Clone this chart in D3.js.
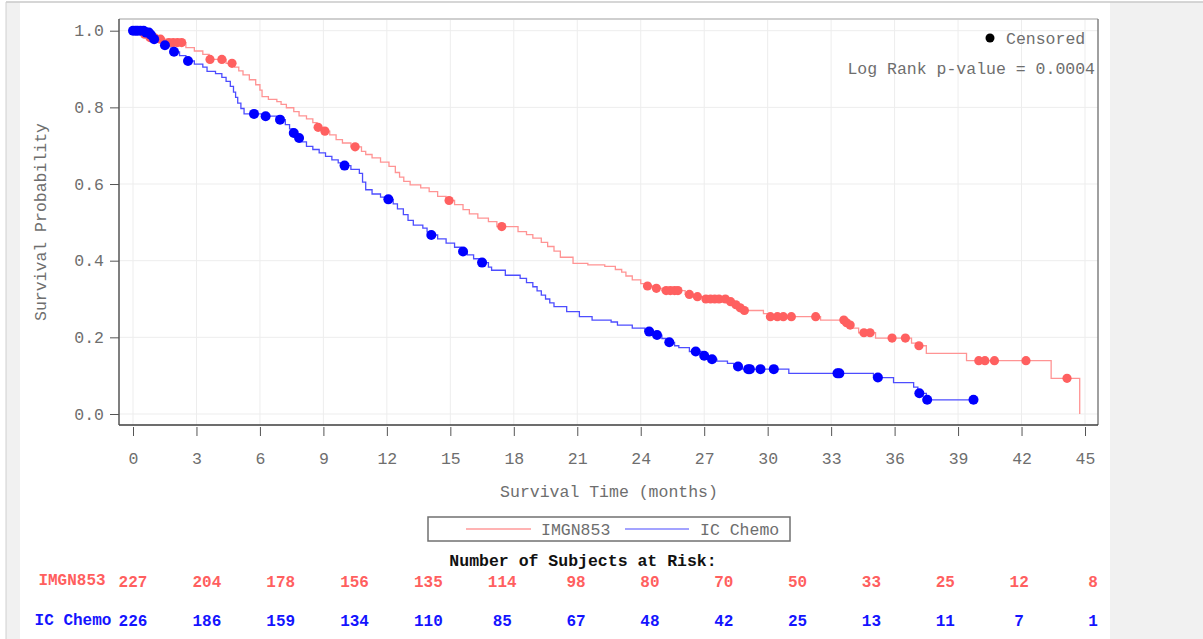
<!DOCTYPE html>
<html>
<head>
<meta charset="utf-8">
<script src="https://cdn.jsdelivr.net/npm/d3@7"></script>
<style>
    body { margin: 0; background: #fff; }
    text { font-family: "Courier New", "Liberation Mono", monospace; }
</style>
</head>
<body>
<div id="km"></div>
<script>
// IMGN853 arm: step times (months) and survival after each step
var redTimes = [0, 0.3, 0.5, 0.75, 1.2, 1.6, 2.5, 2.9, 3.3, 3.6,
    4.4, 4.8, 5.0, 5.2, 5.5, 5.8, 6.0, 6.1, 6.4, 6.8,
    7.0, 7.25, 7.6, 7.85, 8.2, 8.5, 8.7, 9.0, 9.3, 9.6,
    9.9, 10.3, 10.8, 11.0, 11.3, 11.7, 12.1, 12.4, 12.6, 12.8,
    13.1, 13.6, 14.0, 14.4, 14.8, 15.2, 15.6, 15.9, 16.3, 16.8,
    17.2, 18.2, 18.6, 18.9, 19.3, 19.6, 19.9, 20.2, 20.8, 21.5,
    22.3, 22.8, 23.1, 23.3, 23.6, 24.0, 24.3, 24.6, 25.0, 26.1,
    26.5, 27.0, 28.2, 28.4, 28.6, 28.8, 29.8, 30.0, 32.5, 33.7,
    33.85, 34.0, 34.3, 35.1, 36.8, 37.0, 37.5, 39.4, 43.4, 44.75];
var redSurv = [1.0, 0.996, 0.991, 0.982, 0.978, 0.969, 0.956, 0.947, 0.938, 0.925,
    0.915, 0.905, 0.895, 0.885, 0.872, 0.859, 0.845, 0.828, 0.821, 0.815,
    0.808, 0.799, 0.789, 0.778, 0.770, 0.760, 0.748, 0.738, 0.728, 0.716,
    0.707, 0.697, 0.685, 0.677, 0.668, 0.657, 0.646, 0.630, 0.618, 0.607,
    0.598, 0.590, 0.580, 0.568, 0.557, 0.546, 0.533, 0.522, 0.511, 0.502,
    0.489, 0.476, 0.468, 0.459, 0.448, 0.437, 0.425, 0.409, 0.393, 0.389,
    0.385, 0.377, 0.370, 0.360, 0.350, 0.340, 0.334, 0.328, 0.322, 0.312,
    0.306, 0.300, 0.293, 0.285, 0.277, 0.270, 0.262, 0.254, 0.245, 0.238,
    0.232, 0.224, 0.212, 0.198, 0.185, 0.178, 0.158, 0.139, 0.093, 0.0];
var redCensor = [0.55, 0.8, 1.0, 1.3, 1.7, 1.9, 2.1, 2.3, 3.64, 4.2, 4.68, 8.75, 9.07, 10.5,
    14.94, 17.43, 24.32, 24.74, 25.2, 25.4, 25.6, 25.76, 26.3, 26.68, 27.08, 27.3, 27.5,
    27.7, 28.0, 28.25, 28.5, 28.7, 28.9, 30.13, 30.46, 30.74, 31.12, 32.27, 33.6, 33.73,
    33.9, 34.55, 34.84, 35.88, 36.51, 37.15, 39.98, 40.27, 40.72, 42.21, 44.15];

// IC Chemo arm
var blueTimes = [0, 0.6, 0.8, 0.95, 1.1, 1.4, 1.8, 2.2, 2.5, 2.9,
    3.3, 3.5, 3.9, 4.2, 4.4, 4.6, 4.75, 4.85, 4.95, 5.1,
    5.25, 6.1, 6.8, 7.2, 7.4, 7.55, 7.75, 7.9, 8.2, 8.5,
    8.8, 9.1, 9.4, 9.7, 9.95, 10.3, 10.7, 10.85, 11.0, 11.3,
    11.7, 12.0, 12.3, 12.5, 12.78, 13.0, 13.25, 13.7, 13.9, 14.1,
    14.4, 14.8, 15.2, 15.5, 15.8, 16.1, 16.4, 16.8, 16.95, 17.6,
    18.3, 18.6, 18.9, 19.1, 19.3, 19.5, 19.7, 19.9, 20.5, 21.1,
    21.7, 22.6, 22.9, 23.6, 24.2, 24.6, 25.0, 25.2, 25.6, 25.8,
    26.3, 26.9, 27.2, 27.6, 28.1, 28.4, 28.8, 31.0, 35.0, 35.95,
    36.9, 37.1, 37.5, 39.73];
var blueSurv = [1.0, 0.995, 0.989, 0.978, 0.970, 0.962, 0.945, 0.935, 0.921, 0.913,
    0.905, 0.894, 0.888, 0.878, 0.868, 0.855, 0.840, 0.826, 0.811, 0.797,
    0.783, 0.777, 0.768, 0.755, 0.744, 0.733, 0.720, 0.710, 0.698, 0.690,
    0.681, 0.672, 0.663, 0.655, 0.648, 0.638, 0.628, 0.605, 0.585, 0.574,
    0.566, 0.560, 0.548, 0.535, 0.520, 0.505, 0.493, 0.485, 0.475, 0.467,
    0.457, 0.446, 0.435, 0.424, 0.415, 0.405, 0.395, 0.383, 0.375, 0.362,
    0.354, 0.343, 0.332, 0.321, 0.310, 0.300, 0.290, 0.280, 0.267, 0.254,
    0.245, 0.240, 0.232, 0.224, 0.215, 0.206, 0.197, 0.187, 0.178, 0.173,
    0.163, 0.152, 0.143, 0.138, 0.132, 0.124, 0.117, 0.106, 0.095, 0.082,
    0.070, 0.054, 0.037, 0.037];
var blueCensor = [0.0, 0.12, 0.22, 0.35, 0.5, 0.62, 0.75, 0.85, 1.0, 1.51, 1.94, 2.6,
    5.72, 6.27, 6.95, 7.6, 7.85, 10.0, 12.07, 14.1, 15.6, 16.5, 24.4, 24.77, 25.35,
    26.6, 27.0, 27.37, 28.6, 29.08, 29.16, 29.66, 30.29, 33.3, 33.39, 35.21, 37.17,
    37.54, 39.73];

var xTicks = d3.range(0, 46, 3);
var yTicks = [0, 0.2, 0.4, 0.6, 0.8, 1.0];
var riskImgn = [227, 204, 178, 156, 135, 114, 98, 80, 70, 50, 33, 25, 12, 8];
var riskChemo = [226, 186, 159, 134, 110, 85, 67, 48, 42, 25, 13, 11, 7, 1];

var redLine = "#ff9494", redDot = "#ff6060", redText = "#ff5f5f";
var blueLine = "#4d4dff", blueDot = "#0000ff", blueText = "#1414ff";
var greyText = "#6e6e6e";

var W = 1203, H = 639;
var frame = { left: 119, right: 1098, top: 19, bottom: 425 };

var svg = d3.select("#km").append("svg")
    .attr("width", W)
    .attr("height", H);

// page chrome
svg.append("rect").attr("x", 6).attr("y", 2).attr("width", 14).attr("height", H).attr("fill", "#f1f1f1");
svg.append("rect").attr("x", 1110).attr("y", 2).attr("width", W - 1110).attr("height", H).attr("fill", "#f1f1f1");
svg.append("line").attr("x1", 6).attr("x2", W).attr("y1", 2).attr("y2", 2).attr("stroke", "#c8c8c8").attr("stroke-width", 1.5);
svg.append("line").attr("x1", 6).attr("x2", 6).attr("y1", 2).attr("y2", H).attr("stroke", "#d0d0d0").attr("stroke-width", 1);

var x = d3.scaleLinear().domain([0, 45]).range([133, 1085]);
var y = d3.scaleLinear().domain([0, 1]).range([414, 30.7]);

// grid
svg.append("g").selectAll("line").data(xTicks).enter().append("line")
    .attr("x1", d => x(d)).attr("x2", d => x(d))
    .attr("y1", frame.top).attr("y2", frame.bottom)
    .attr("stroke", "#ededed");
svg.append("g").selectAll("line").data(yTicks).enter().append("line")
    .attr("x1", frame.left).attr("x2", frame.right)
    .attr("y1", d => y(d)).attr("y2", d => y(d))
    .attr("stroke", "#ededed");

// frame
svg.append("line").attr("x1", frame.left).attr("x2", frame.right).attr("y1", frame.top).attr("y2", frame.top)
    .attr("stroke", "#cfcfcf").attr("stroke-width", 2);
svg.append("line").attr("x1", frame.right).attr("x2", frame.right).attr("y1", frame.top).attr("y2", frame.bottom)
    .attr("stroke", "#808080").attr("stroke-width", 1.5);
svg.append("line").attr("x1", frame.left).attr("x2", frame.right).attr("y1", frame.bottom).attr("y2", frame.bottom)
    .attr("stroke", "#3c3c3c").attr("stroke-width", 1.5);
svg.append("line").attr("x1", frame.left).attr("x2", frame.left).attr("y1", frame.top).attr("y2", frame.bottom)
    .attr("stroke", "#555").attr("stroke-width", 1.5);

// axes
var xAxis = svg.append("g")
    .attr("transform", "translate(0," + (frame.bottom + 2) + ")")
    .call(d3.axisBottom(x).tickValues(xTicks).tickSize(9).tickPadding(16));
var yAxis = svg.append("g")
    .attr("transform", "translate(" + frame.left + ",0)")
    .call(d3.axisLeft(y).tickValues(yTicks).tickFormat(d3.format(".1f")).tickSize(9).tickPadding(6));
[xAxis, yAxis].forEach(function(g) {
    g.select(".domain").remove();
    g.selectAll(".tick line").attr("stroke", "#555");
    g.selectAll(".tick text")
        .attr("fill", greyText)
        .style("font-size", "16.5px")
        .style("font-family", "'Courier New', 'Liberation Mono', monospace");
});

svg.append("text")
    .attr("x", 609).attr("y", 497)
    .attr("text-anchor", "middle")
    .attr("fill", greyText)
    .style("font-size", "16.5px")
    .text("Survival Time (months)");
svg.append("text")
    .attr("transform", "translate(46,222) rotate(-90)")
    .attr("text-anchor", "middle")
    .attr("fill", greyText)
    .style("font-size", "16.5px")
    .text("Survival Probability");

// KM curves
var line = d3.line()
    .x(d => x(d[0]))
    .y(d => y(d[1]))
    .curve(d3.curveStepAfter);

function stepAt(times, surv, t) {
    var i = d3.bisectRight(times, t) - 1;
    return surv[Math.max(0, i)];
}

var plot = svg.append("g");
plot.append("path")
    .datum(d3.zip(redTimes, redSurv))
    .attr("d", line)
    .attr("fill", "none")
    .attr("stroke", redLine)
    .attr("stroke-width", 1.3);
plot.append("path")
    .datum(d3.zip(blueTimes, blueSurv))
    .attr("d", line)
    .attr("fill", "none")
    .attr("stroke", blueLine)
    .attr("stroke-width", 1.3);

plot.append("g").selectAll("circle").data(redCensor).enter().append("circle")
    .attr("cx", d => x(d))
    .attr("cy", d => y(stepAt(redTimes, redSurv, d)))
    .attr("r", 4.6)
    .attr("fill", redDot);
plot.append("g").selectAll("circle").data(blueCensor).enter().append("circle")
    .attr("cx", d => x(d))
    .attr("cy", d => y(stepAt(blueTimes, blueSurv, d)))
    .attr("r", 5)
    .attr("fill", blueDot);

// censored key + p-value
svg.append("circle").attr("cx", 990).attr("cy", 38).attr("r", 4.5).attr("fill", "#000");
svg.append("text").attr("x", 1006).attr("y", 44).attr("fill", greyText)
    .style("font-size", "16.5px").text("Censored");
svg.append("text").attr("x", 1095).attr("y", 74).attr("text-anchor", "end").attr("fill", greyText)
    .style("font-size", "16.5px").text("Log Rank p-value = 0.0004");

// legend box
var legend = svg.append("g");
legend.append("rect")
    .attr("x", 428).attr("y", 517).attr("width", 362).attr("height", 24)
    .attr("fill", "#fff").attr("stroke", "#707070").attr("stroke-width", 1.5);
legend.append("line").attr("x1", 466).attr("x2", 531).attr("y1", 529).attr("y2", 529)
    .attr("stroke", "#ffb3b3").attr("stroke-width", 1.8);
legend.append("text").attr("x", 541).attr("y", 535).attr("fill", greyText)
    .style("font-size", "16.5px").text("IMGN853");
legend.append("line").attr("x1", 625).attr("x2", 689).attr("y1", 529).attr("y2", 529)
    .attr("stroke", "#a3a3ff").attr("stroke-width", 1.8);
legend.append("text").attr("x", 700).attr("y", 535).attr("fill", greyText)
    .style("font-size", "16.5px").text("IC Chemo");

// number at risk
svg.append("text")
    .attr("x", 583).attr("y", 566)
    .attr("text-anchor", "middle")
    .attr("fill", "#111")
    .style("font-size", "16.5px")
    .style("font-weight", "bold")
    .text("Number of Subjects at Risk:");

var col = d3.scalePoint().domain(d3.range(riskImgn.length)).range([133, 1093]);

svg.append("text").attr("x", 72).attr("y", 585).attr("text-anchor", "middle")
    .attr("fill", redText).style("font-size", "16px").style("font-weight", "bold").text("IMGN853");
svg.append("text").attr("x", 73).attr("y", 625).attr("text-anchor", "middle")
    .attr("fill", blueText).style("font-size", "16px").style("font-weight", "bold").text("IC Chemo");

svg.append("g").selectAll("text").data(riskImgn).enter().append("text")
    .attr("x", (d, i) => col(i)).attr("y", 587)
    .attr("text-anchor", "middle")
    .attr("fill", redText)
    .style("font-size", "16px").style("font-weight", "bold")
    .text(d => d);
svg.append("g").selectAll("text").data(riskChemo).enter().append("text")
    .attr("x", (d, i) => col(i)).attr("y", 626)
    .attr("text-anchor", "middle")
    .attr("fill", blueText)
    .style("font-size", "16px").style("font-weight", "bold")
    .text(d => d);
</script>
</body>
</html>
